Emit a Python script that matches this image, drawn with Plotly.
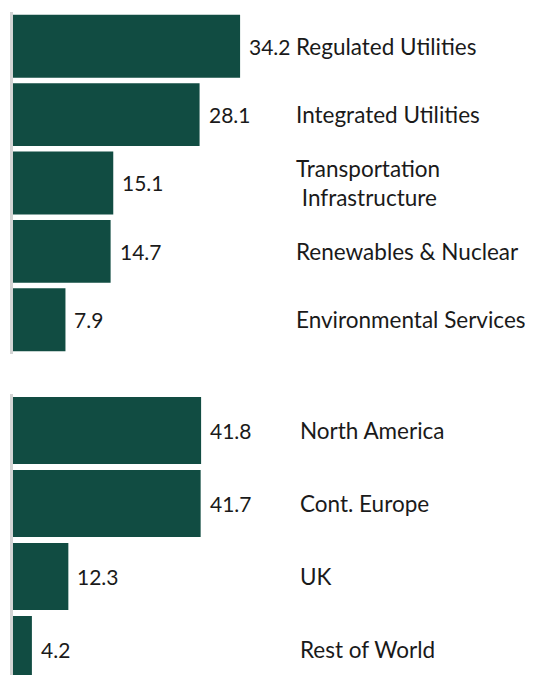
import plotly.graph_objects as go
from plotly.subplots import make_subplots

sector_labels = ["Regulated Utilities", "Integrated Utilities", "Transportation<br>\u00a0Infrastructure",
                 "Renewables & Nuclear", "Environmental Services"]
sector_values = [34.2, 28.1, 15.1, 14.7, 7.9]

region_labels = ["North America", "Cont. Europe", "UK", "Rest of World"]
region_values = [41.8, 41.7, 12.3, 4.2]

BAR = "#114c42"
FONT = "Lato, 'Source Sans Pro', 'Noto Sans', sans-serif"
TXT = "#1a1a1a"
FS = 22.5
VFS = 21

W, H = 533, 675
L = 5
PW = W - L

fig = make_subplots(rows=2, cols=1, vertical_spacing=0)

fig.add_trace(go.Bar(y=list(range(len(sector_values))), x=sector_values, orientation="h",
                     marker=dict(color=BAR, line=dict(width=0)), hoverinfo="skip"), row=1, col=1)
fig.add_trace(go.Bar(y=list(range(len(region_values))), x=region_values, orientation="h",
                     marker=dict(color=BAR, line=dict(width=0)), hoverinfo="skip"), row=2, col=1)

ann = []
for i, v in enumerate(sector_values):
    ann.append(dict(x=v, y=i, xref="x", yref="y", text=f"{v:.1f}", showarrow=False,
                    xanchor="left", xshift=7, yanchor="middle",
                    font=dict(family=FONT, size=VFS, color=TXT)))
    ann.append(dict(x=(286 - L) / PW, y=i, xref="paper", yref="y", text=sector_labels[i],
                    showarrow=False, xanchor="left", align="left", yanchor="middle",
                    font=dict(family=FONT, size=FS, color=TXT)))
for i, v in enumerate(region_values):
    ann.append(dict(x=v, y=i, xref="x2", yref="y2", text=f"{v:.1f}", showarrow=False,
                    xanchor="left", xshift=7, yanchor="middle",
                    font=dict(family=FONT, size=VFS, color=TXT)))
    ann.append(dict(x=(290 - L) / PW, y=i, xref="paper", yref="y2", text=region_labels[i],
                    showarrow=False, xanchor="left", align="left", yanchor="middle",
                    font=dict(family=FONT, size=FS, color=TXT)))

fig.update_layout(
    width=W, height=H,
    margin=dict(l=L, r=0, t=0, b=0),
    paper_bgcolor="white", plot_bgcolor="white",
    showlegend=False, bargap=0.08,
    annotations=ann,
    font=dict(family=FONT, color=TXT),
)

axis_line = dict(showline=True, linecolor="#d4d4d4", linewidth=3)
fig.update_xaxes(range=[0, PW / 6.64], showgrid=False, zeroline=False, showticklabels=False,
                 ticks="", row=1, col=1)
fig.update_xaxes(range=[0, PW / 4.5], showgrid=False, zeroline=False, showticklabels=False,
                 ticks="", row=2, col=1)
fig.update_yaxes(range=[4.5, -0.5], showgrid=False, zeroline=False, showticklabels=False,
                 ticks="", domain=[1 - 346 / H, 1 - 4 / H], row=1, col=1, **axis_line)
fig.update_yaxes(range=[(H - 386) / 73 - 0.5, -0.5], showgrid=False, zeroline=False,
                 showticklabels=False, ticks="", domain=[0, 1 - 386 / H], row=2, col=1, **axis_line)

fig.write_html("out.html")
